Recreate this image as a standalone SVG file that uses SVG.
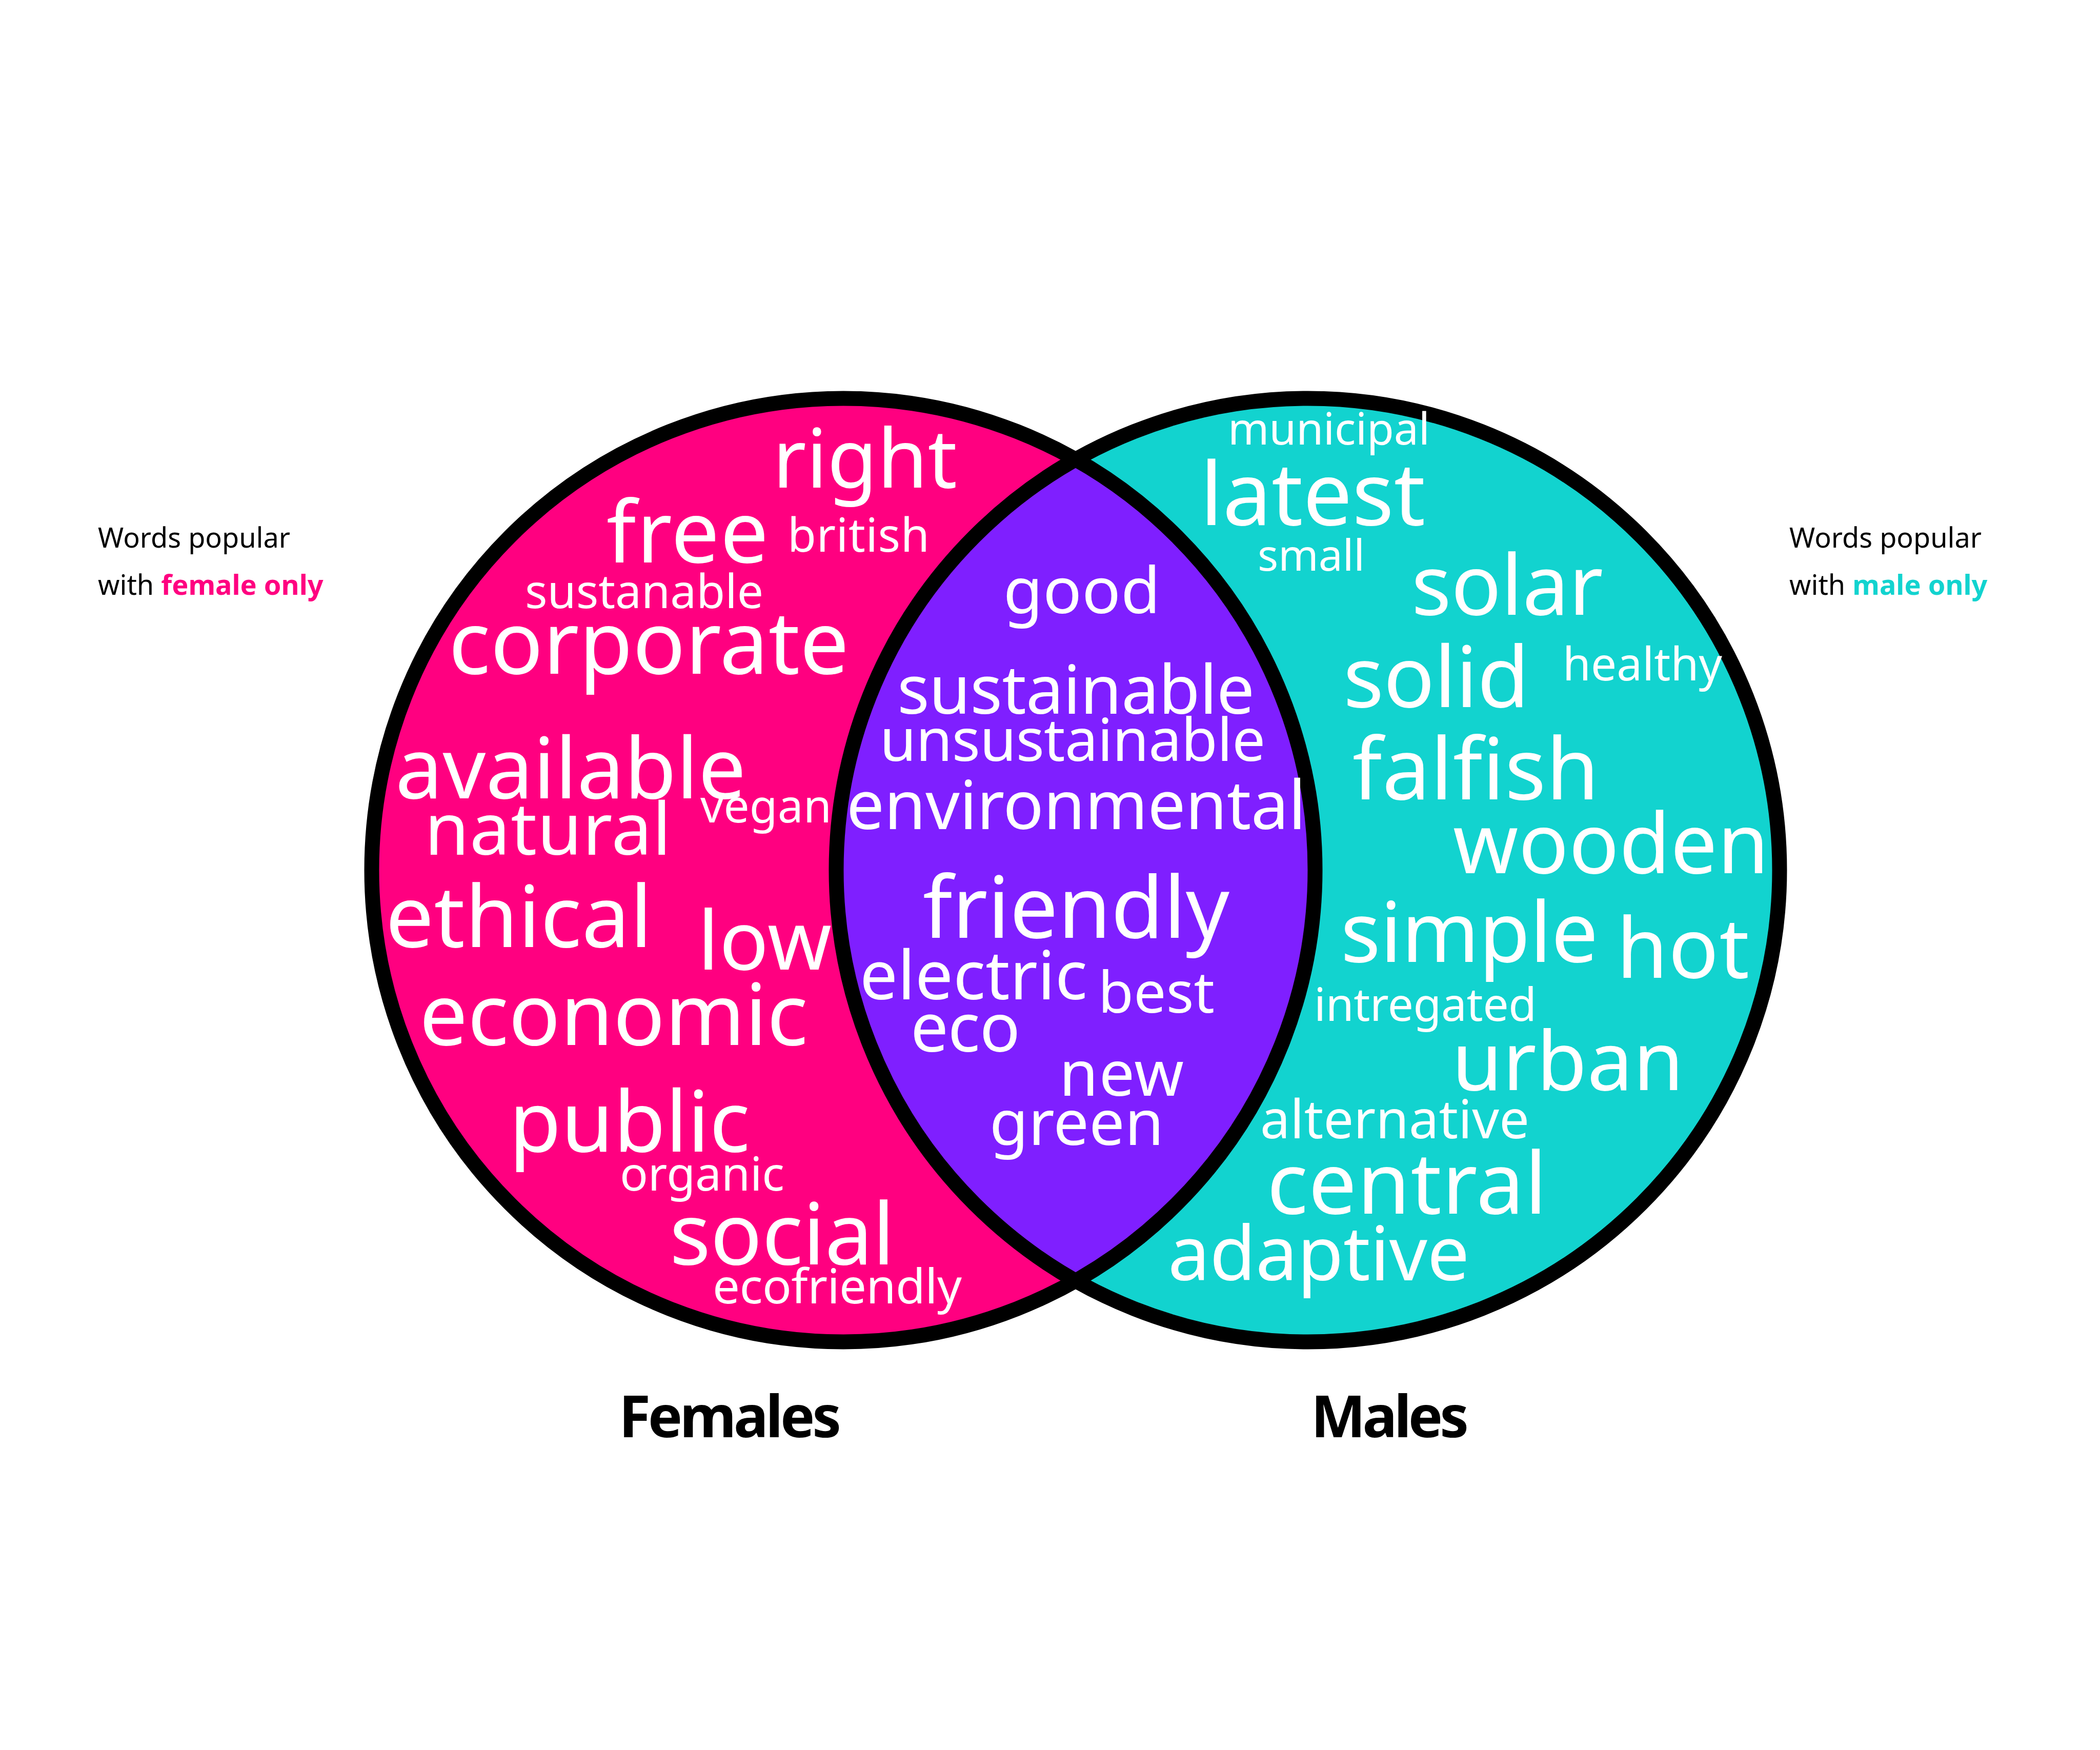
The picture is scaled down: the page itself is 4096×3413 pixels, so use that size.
<svg xmlns="http://www.w3.org/2000/svg" width="4096" height="3413" viewBox="0 0 4096 3413">
<style>
.w{fill:#fff;font-family:"Noto Sans","Open Sans","DejaVu Sans",sans-serif}
.lg{font-family:"Noto Sans","Open Sans","DejaVu Sans",sans-serif;font-size:54px;fill:#000}
.b{font-weight:700}
.lab{font-family:"Noto Sans","Open Sans","DejaVu Sans",sans-serif;font-size:113px;font-weight:700;fill:#000}
.ring{fill:none;stroke:#000;stroke-width:29}
</style>
<defs>
<clipPath id="clipL"><circle cx="1645" cy="1697" r="920"/></clipPath>
</defs>
<rect width="4096" height="3413" fill="#fff"/>
<g id="females-circle"><circle cx="1645" cy="1697" r="920" fill="#FF0080"/></g>
<g id="males-circle"><circle cx="2551" cy="1697" r="920" fill="#12D3CF"/></g>
<g id="overlap"><circle cx="2551" cy="1697" r="920" fill="#7F1FFF" clip-path="url(#clipL)"/></g>
<g id="outlines"><circle class="ring" cx="1645" cy="1697" r="920"/><circle class="ring" cx="2551" cy="1697" r="920"/></g>
<g id="female-words" class="w">
<text x="1507" y="951" font-size="159" textLength="360">right</text>
<text x="1183" y="1097" font-size="167" textLength="316">free</text>
<text x="1536" y="1076" font-size="91" textLength="277">british</text>
<text x="1024" y="1186" font-size="91" textLength="465">sustanable</text>
<text x="875" y="1314" font-size="170" textLength="781">corporate</text>
<text x="771" y="1557" font-size="165" textLength="684">available</text>
<text x="828" y="1667" font-size="141" textLength="481">natural</text>
<text x="1366" y="1604" font-size="89" textLength="256">vegan</text>
<text x="752" y="1847" font-size="167" textLength="520">ethical</text>
<text x="1361" y="1891" font-size="159" textLength="261">low</text>
<text x="818" y="2038" font-size="167" textLength="758">economic</text>
<text x="993" y="2246" font-size="165" textLength="470">public</text>
<text x="1209" y="2322" font-size="91" textLength="321">organic</text>
<text x="1306" y="2466" font-size="167" textLength="439">social</text>
<text x="1390" y="2542" font-size="94" textLength="486">ecofriendly</text>
</g>
<g id="shared-words" class="w">
<text x="1957" y="1196" font-size="125" textLength="306">good</text>
<text x="1750" y="1392" font-size="131" textLength="697">sustainable</text>
<text x="1716" y="1484" font-size="115" textLength="752">unsustainable</text>
<text x="1651" y="1617" font-size="131" textLength="896">environmental</text>
<text x="1800" y="1829" font-size="167" textLength="598">friendly</text>
<text x="1677" y="1949" font-size="131" textLength="444">electric</text>
<text x="2142" y="1975" font-size="112" textLength="227">best</text>
<text x="1776" y="2051" font-size="131" textLength="214">eco</text>
<text x="2066" y="2137" font-size="123" textLength="243">new</text>
<text x="1930" y="2233" font-size="123" textLength="340">green</text>
</g>
<g id="male-words" class="w">
<text x="2395" y="867" font-size="86" textLength="394">municipal</text>
<text x="2341" y="1024" font-size="170" textLength="439">latest</text>
<text x="2453" y="1113" font-size="84" textLength="209">small</text>
<text x="2753" y="1199" font-size="162" textLength="374">solar</text>
<text x="2620" y="1379" font-size="165" textLength="363">solid</text>
<text x="3048" y="1327" font-size="89" textLength="311">healthy</text>
<text x="2638" y="1559" font-size="167" textLength="481">falfish</text>
<text x="2834" y="1703" font-size="162" textLength="616">wooden</text>
<text x="2615" y="1876" font-size="162" textLength="502">simple</text>
<text x="3153" y="1907" font-size="162" textLength="259">hot</text>
<text x="2563" y="1991" font-size="89" textLength="434">intregated</text>
<text x="2832" y="2126" font-size="159" textLength="452">urban</text>
<text x="2458" y="2220" font-size="104" textLength="525">alternative</text>
<text x="2471" y="2367" font-size="167" textLength="546">central</text>
<text x="2278" y="2497" font-size="146" textLength="588">adaptive</text>
</g>
<g id="legend-female" class="lg">
<text x="191" y="1068">Words popular</text>
<text x="191" y="1160">with <tspan class="b" fill="#FF0080">female only</tspan></text>
</g>
<g id="legend-male" class="lg">
<text x="3490" y="1068">Words popular</text>
<text x="3490" y="1160">with <tspan class="b" fill="#12D3CF">male only</tspan></text>
</g>
<g id="label-females"><text class="lab" x="1207" y="2803" textLength="434">Females</text></g>
<g id="label-males"><text class="lab" x="2557" y="2803" textLength="308">Males</text></g>
</svg>
